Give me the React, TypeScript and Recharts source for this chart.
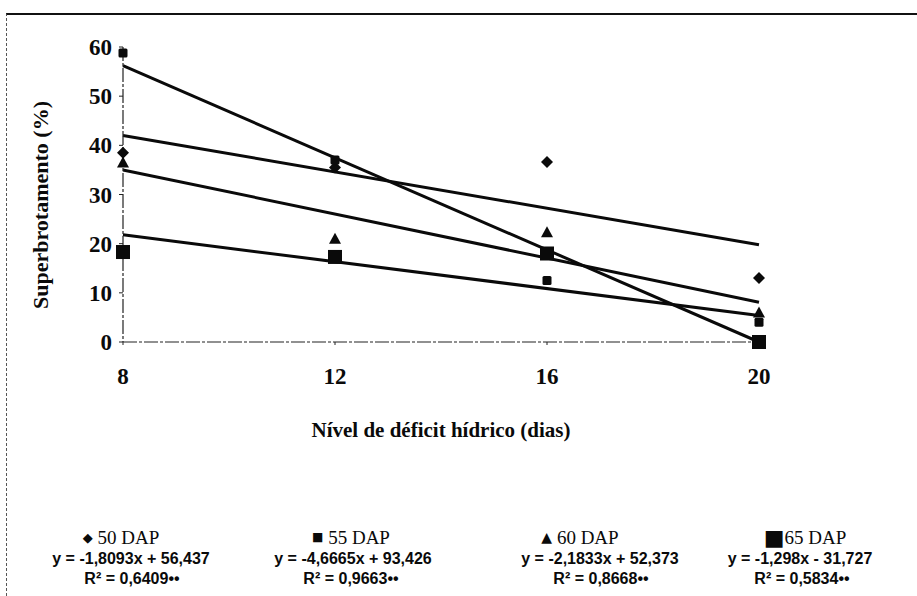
import React from 'react';
import { ComposedChart, Line, Scatter, XAxis, YAxis, Customized } from 'recharts';

// ---- data ----
const days = [8, 12, 16, 20];
const dap50 = [38.5, 35.5, 36.6, 13];
const dap55 = [58.8, 37, 12.5, 4];
const dap60 = [36.5, 21, 22.3, 6];
const dap65 = [18.3, 17.3, 18, 0];

// fitted trend lines: values at both ends (x = 8 and x = 20)
const trendDays = [8, 20];
const fit50 = [42, 19.8];
const fit55 = [56.2, 0];
const fit60 = [35, 8.1];
const fit65 = [21.8, 5.4];

const xTicks = [8, 12, 16, 20];
const yTicks = [0, 10, 20, 30, 40, 50, 60];

const seriesNames = ['50 DAP', '55 DAP', '60 DAP', '65 DAP'];
const equations = [
  'y = -1,8093x + 56,437',
  'y = -4,6665x + 93,426',
  'y = -2,1833x + 52,373',
  'y = -1,298x - 31,727',
];
const r2Labels = ['R² = 0,6409••', 'R² = 0,9663••', 'R² = 0,8668••', 'R² = 0,5834••'];

const xTitle = 'Nível de déficit hídrico (dias)';
const yTitle = 'Superbrotamento (%)';

const toPts = (xs: number[], ys: number[]) => xs.map((x, i) => ({ x, y: ys[i] }));

const INK = '#0a0a0a';

const Diamond = (p: any) => {
  const { cx, cy } = p;
  if (cx == null || cy == null) return <g />;
  return <polygon points={`${cx},${cy - 6} ${cx + 6},${cy} ${cx},${cy + 6} ${cx - 6},${cy}`} fill={INK} />;
};
const SmallSquare = (p: any) => {
  const { cx, cy } = p;
  if (cx == null || cy == null) return <g />;
  return <rect x={cx - 4.5} y={cy - 4.5} width={9} height={9} rx={1.5} fill={INK} />;
};
const Triangle = (p: any) => {
  const { cx, cy } = p;
  if (cx == null || cy == null) return <g />;
  return <polygon points={`${cx},${cy - 6} ${cx + 6},${cy + 5} ${cx - 6},${cy + 5}`} fill={INK} />;
};
const BigSquare = (p: any) => {
  const { cx, cy } = p;
  if (cx == null || cy == null) return <g />;
  return <rect x={cx - 7} y={cy - 7} width={14} height={14} fill={INK} />;
};

const glyphs = ['◆', '■', '▲', '■'];
const glyphSizes = [13, 12, 14, 22];
const headerX = [121, 351, 580, 805];
const eqX = [131, 353, 600, 800];
const r2X = [132, 351, 601, 802];

const Extras = () => (
  <g>
    <text
      x={40}
      y={205}
      transform="rotate(-90 40 205)"
      textAnchor="middle"
      dominantBaseline="central"
      fontFamily="'Liberation Serif', serif"
      fontWeight="bold"
      fontSize={22}
      fill={INK}
    >
      {yTitle}
    </text>
    <text
      x={441}
      y={430}
      textAnchor="middle"
      dominantBaseline="central"
      fontFamily="'Liberation Serif', serif"
      fontWeight="bold"
      fontSize={21}
      fill={INK}
    >
      {xTitle}
    </text>
    {seriesNames.map((name, i) => (
      <g key={name}>
        <text
          x={headerX[i]}
          y={537}
          textAnchor="middle"
          dominantBaseline="central"
          fontFamily="'Liberation Serif', serif"
          fontSize={19}
          fill={INK}
        >
          <tspan fontFamily="'DejaVu Sans', sans-serif" fontSize={glyphSizes[i]}>{glyphs[i]}</tspan>
          <tspan>{i === 3 ? name : ' ' + name}</tspan>
        </text>
        <text
          x={eqX[i]}
          y={558}
          textAnchor="middle"
          dominantBaseline="central"
          fontFamily="'Liberation Sans', sans-serif"
          fontWeight="bold"
          fontSize={16}
          fill={INK}
        >
          {equations[i]}
        </text>
        <text
          x={r2X[i]}
          y={578}
          textAnchor="middle"
          dominantBaseline="central"
          fontFamily="'Liberation Sans', sans-serif"
          fontWeight="bold"
          fontSize={16}
          fill={INK}
        >
          {r2Labels[i]}
        </text>
      </g>
    ))}
  </g>
);

const tickStyle = {
  fontFamily: "'Liberation Serif', serif",
  fontWeight: 'bold' as const,
  fontSize: 23,
  fill: INK,
};

const axisLine = { stroke: '#222', strokeWidth: 1.2, strokeDasharray: '14 2 3 2' };

export default function App() {
  return (
    <div style={{ position: 'absolute', left: 0, top: 0, width: 917, height: 596, background: '#fff' }}>
      <div
        style={{
          position: 'absolute',
          left: 6,
          top: 13,
          width: 911,
          height: 583,
          borderTop: '2px solid #111',
          borderLeft: '1px dashed #555',
          boxSizing: 'border-box',
        }}
      />
      <div style={{ position: 'absolute', left: 0, top: 0 }}>
        <ComposedChart width={917} height={596} margin={{ top: 47, right: 158, left: 0, bottom: 194 }}>
          <XAxis
            type="number"
            dataKey="x"
            domain={[8, 20]}
            ticks={xTicks}
            tick={tickStyle}
            tickSize={3}
            tickMargin={23}
            height={60}
            axisLine={axisLine}
            tickLine={{ stroke: '#222' }}
          />
          <YAxis
            type="number"
            dataKey="y"
            domain={[0, 60]}
            ticks={yTicks}
            tick={tickStyle}
            tickSize={4}
            tickMargin={7}
            width={123}
            axisLine={axisLine}
            tickLine={{ stroke: '#222' }}
          />
          <Line data={toPts(trendDays, fit50)} dataKey="y" stroke={INK} strokeWidth={3} dot={false} isAnimationActive={false} type="linear" />
          <Line data={toPts(trendDays, fit55)} dataKey="y" stroke={INK} strokeWidth={3} dot={false} isAnimationActive={false} type="linear" />
          <Line data={toPts(trendDays, fit60)} dataKey="y" stroke={INK} strokeWidth={3} dot={false} isAnimationActive={false} type="linear" />
          <Line data={toPts(trendDays, fit65)} dataKey="y" stroke={INK} strokeWidth={3} dot={false} isAnimationActive={false} type="linear" />
          <Scatter name="50 DAP" data={toPts(days, dap50)} dataKey="y" shape={Diamond} isAnimationActive={false} />
          <Scatter name="55 DAP" data={toPts(days, dap55)} dataKey="y" shape={SmallSquare} isAnimationActive={false} />
          <Scatter name="60 DAP" data={toPts(days, dap60)} dataKey="y" shape={Triangle} isAnimationActive={false} />
          <Scatter name="65 DAP" data={toPts(days, dap65)} dataKey="y" shape={BigSquare} isAnimationActive={false} />
          <Customized component={Extras} />
        </ComposedChart>
      </div>
    </div>
  );
}
